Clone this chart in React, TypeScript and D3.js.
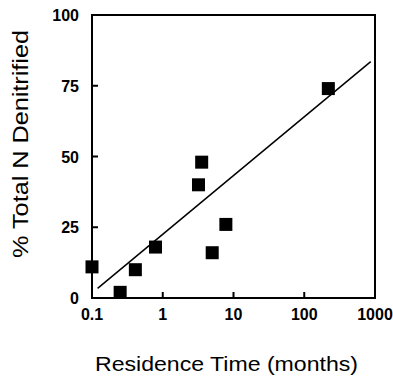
import { useEffect, useRef } from 'react';
import * as d3 from 'd3';

// residence time (months) vs % total N denitrified
const residenceTime = [0.1, 0.25, 0.41, 0.79, 3.2, 3.55, 5.0, 7.8, 219];
const pctDenitrified = [11, 2, 10, 18, 40, 48, 16, 26, 74];

// regression line end points
const fitX = [0.12, 870];
const fitY = [3.4, 83.5];

const xTicks = [0.1, 1, 10, 100, 1000];
const yTicks = [0, 25, 50, 75, 100];

export default function App() {
  const svgRef = useRef<SVGSVGElement>(null);
  const width = 393;
  const height = 378;

  useEffect(() => {
    if (!svgRef.current) return;
    const svg = d3.select(svgRef.current);
    svg.selectAll('*').remove();

    const margin = { top: 15, right: 18, bottom: 80, left: 92 };
    const x = d3.scaleLog().domain([0.1, 1000]).range([margin.left, width - margin.right]);
    const y = d3.scaleLinear().domain([0, 100]).range([height - margin.bottom, margin.top]);

    svg.append('rect').attr('width', width).attr('height', height).attr('fill', '#fff');

    // frame
    svg
      .append('rect')
      .attr('x', x(0.1))
      .attr('y', y(100))
      .attr('width', x(1000) - x(0.1))
      .attr('height', y(0) - y(100))
      .attr('fill', 'none')
      .attr('stroke', '#000')
      .attr('stroke-width', 2);

    // y ticks (inward) + labels
    yTicks.forEach((t) => {
      svg
        .append('line')
        .attr('x1', x(0.1))
        .attr('x2', x(0.1) + 6)
        .attr('y1', y(t))
        .attr('y2', y(t))
        .attr('stroke', '#000')
        .attr('stroke-width', 2);
      svg
        .append('text')
        .attr('x', x(0.1) - 13)
        .attr('y', y(t) + 6)
        .attr('text-anchor', 'end')
        .style('font-family', 'Liberation Sans, Arial, sans-serif')
        .style('font-size', '16px')
        .style('font-weight', 'bold')
        .text(t);
    });

    // x ticks (inward) + labels
    xTicks.forEach((t) => {
      svg
        .append('line')
        .attr('x1', x(t))
        .attr('x2', x(t))
        .attr('y1', y(0))
        .attr('y2', y(0) - 6)
        .attr('stroke', '#000')
        .attr('stroke-width', 2);
      svg
        .append('text')
        .attr('x', x(t))
        .attr('y', y(0) + 22)
        .attr('text-anchor', 'middle')
        .style('font-family', 'Liberation Sans, Arial, sans-serif')
        .style('font-size', '16px')
        .style('font-weight', 'bold')
        .text(String(t));
    });

    // fit line
    svg
      .append('line')
      .attr('x1', x(fitX[0]))
      .attr('y1', y(fitY[0]))
      .attr('x2', x(fitX[1]))
      .attr('y2', y(fitY[1]))
      .attr('stroke', '#000')
      .attr('stroke-width', 1.5);

    // points
    const s = 13;
    residenceTime.forEach((t, i) => {
      svg
        .append('rect')
        .attr('x', x(t) - s / 2)
        .attr('y', y(pctDenitrified[i]) - s / 2)
        .attr('width', s)
        .attr('height', s)
        .attr('fill', '#000');
    });

    // axis titles
    svg
      .append('text')
      .attr('x', (x(0.1) + x(1000)) / 2 - 7)
      .attr('y', 371)
      .attr('text-anchor', 'middle')
      .attr('textLength', 263)
      .attr('lengthAdjust', 'spacingAndGlyphs')
      .style('font-family', 'Liberation Sans, Arial, sans-serif')
      .style('font-size', '21px')
      .text('Residence Time (months)');

    svg
      .append('text')
      .attr('transform', `translate(28, 144) rotate(-90)`)
      .attr('text-anchor', 'middle')
      .attr('textLength', 228)
      .attr('lengthAdjust', 'spacingAndGlyphs')
      .style('font-family', 'Liberation Sans, Arial, sans-serif')
      .style('font-size', '22px')
      .text('% Total N Denitrified');
  }, []);

  return (
    <svg
      ref={svgRef}
      width={width}
      height={height}
      style={{ position: 'absolute', left: 0, top: 0 }}
    ></svg>
  );
}
